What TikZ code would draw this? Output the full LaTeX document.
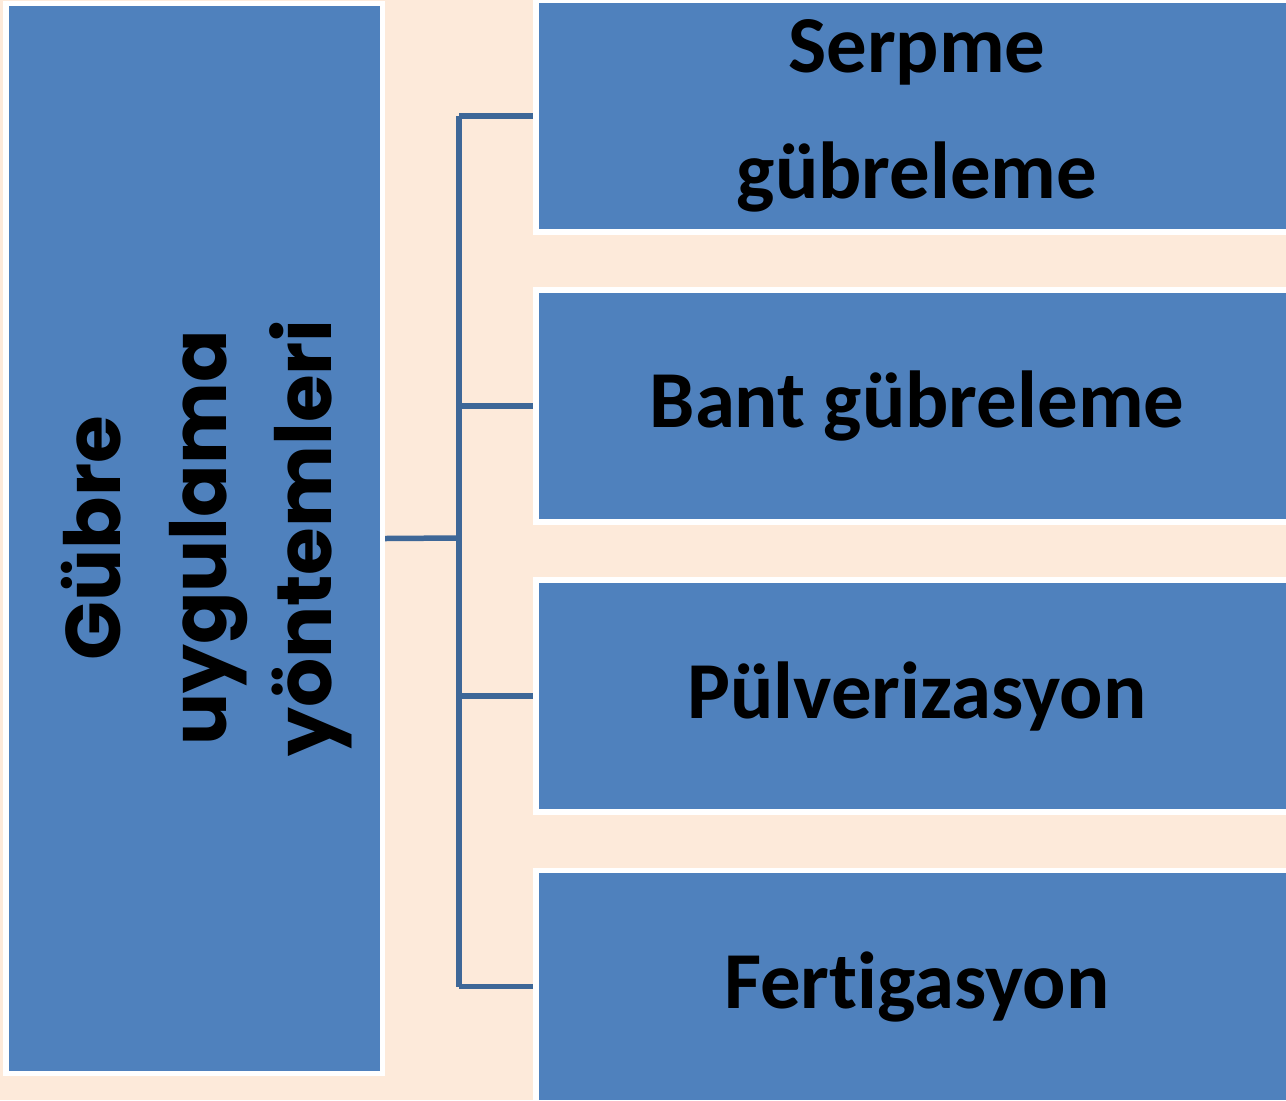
\documentclass[tikz,border=0pt]{standalone}
\usepackage{fontspec}
\setmainfont{Carlito}[Ligatures=NoCommon]
\newfontfamily\roundfont{Poppins}
\usepackage{tikz}
\usetikzlibrary{calc}

\definecolor{pagepeach}{HTML}{FDEADA}
\definecolor{boxblue}{HTML}{4F81BD}
\definecolor{linkblue}{HTML}{3E6797}

\tikzset{
    box/.style={draw=white, line width=0.11cm, fill=boxblue, rectangle, inner sep=0pt},
    methodbox/.style={box, minimum width=15.24cm, minimum height=4.65cm, align=center,
        font=\fontsize{46}{72}\selectfont\bfseries},
    link/.style={draw=linkblue, line width=0.11cm}
}

\begin{document}
\begin{tikzpicture}[x=0.02cm, y=-0.02cm]
    \useasboundingbox (0, 0) rectangle (1286, 1100);
    \clip (0, 0) rectangle (1286, 1100);
    \fill[pagepeach] (0, 0) rectangle (1286, 1100);

    \node[box, minimum width=7.53cm, minimum height=21.4cm] (root) at (194.25, 538.5) {};
    \node[rotate=90, align=center, font=\roundfont\fontsize{44}{60}\selectfont\bfseries] (rootlabel) at (207, 538) {G\"ubre\\uygulama\\y\"ontemleri};

    \node[methodbox] (serpme) at (917, 116) {Serpme\\g\"ubreleme};
    \node[methodbox] (bant) at (917, 406) {Bant g\"ubreleme};
    \node[methodbox] (pulver) at (917, 696) {P\"ulverizasyon};
    \node[methodbox] (ferti) at (917, 986.5) {Fertigasyon};

    \coordinate (hub) at (459, 538);
    \draw[link] (root.east) -- (hub);
    \draw[link] (serpme.west -| hub) -- (ferti.west -| hub);
    \foreach \m in {serpme, bant, pulver, ferti}
        \draw[link] (\m.west -| hub) -- (\m.west);
\end{tikzpicture}
\end{document}
